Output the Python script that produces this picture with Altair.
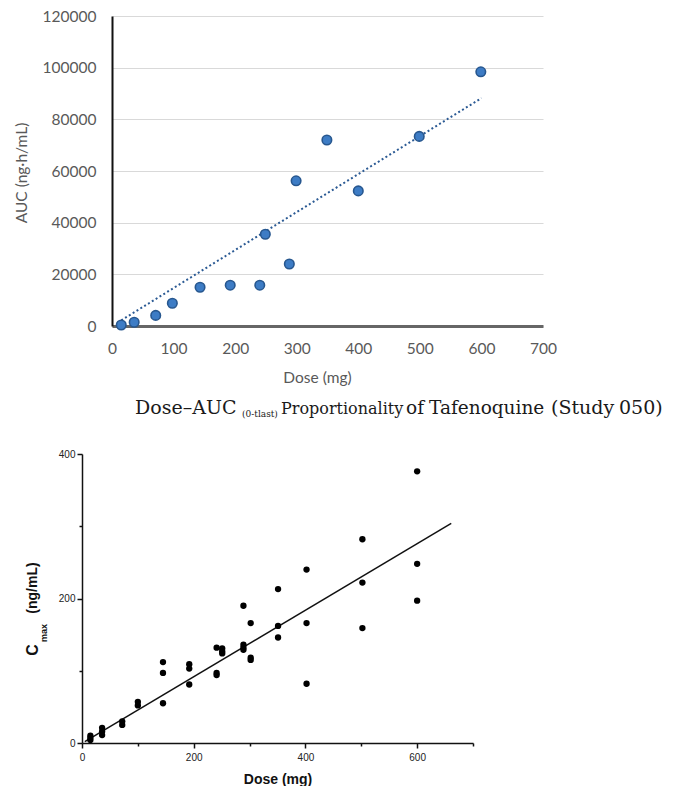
import altair as alt
import pandas as pd

# ---------------- data ----------------
# Top panel: AUC vs dose (Study 050 means)
auc_dose = [15, 36, 71, 98, 143, 192, 240, 249, 288, 299, 349, 400, 499, 599]
auc_val = [400, 1450, 4100, 8800, 15000, 15800, 15800, 35500, 24000, 56200, 72000, 52300, 73400, 98400]
auc_trend_dose = [15, 600]
auc_trend_val = [2200, 88200]

# Bottom panel: Cmax vs dose (individual subjects)
cmax_dose = [15, 15, 15, 36, 36, 36, 72, 72, 100, 100, 145, 145, 145,
             192, 192, 192, 241, 241, 241, 251, 251, 251, 289, 289, 289, 289,
             302, 302, 302, 351, 351, 351, 402, 402, 402, 502, 502, 502, 600, 600, 600]
cmax_val = [10, 7, 4, 21, 16, 11, 30, 25, 57, 52, 112, 97, 55,
            109, 103, 81, 132, 97, 94, 131, 127, 124, 190, 136, 132, 129,
            166, 118, 115, 213, 162, 146, 240, 166, 82, 282, 222, 159, 376, 248, 197]
cmax_fit_dose = [5, 661]
cmax_fit_val = [2, 304]

top_x_ticks = [0, 100, 200, 300, 400, 500, 600, 700]
top_y_ticks = [0, 20000, 40000, 60000, 80000, 100000, 120000]
bot_x_ticks = [0, 100, 200, 300, 400, 500, 600, 700]
bot_y_ticks = [0, 100, 200, 300, 400]

title_words = ["Dose\u2013AUC", "(0-tlast)", "Proportionality", "of", "Tafenoquine", "(Study", "050)"]

# ---------------- layout constants ----------------
W_TOP, H_TOP = 431, 310
W_BOT, H_BOT = 391, 289
SPACER_TOP, SPACER_BOT = 4, 14
MID_H = 63
word_x = [124, 231, 270, 395, 418, 540, 608]
word_y = [28, 31, 28, 28, 28, 28, 28]
word_size = [19, 9, 16, 18.5, 18.5, 19, 19]

GRAY = "#595959"
one = pd.DataFrame({"k": [0]})

# ---------------- top chart ----------------
top_df = pd.DataFrame({"dose": auc_dose, "auc": auc_val})
trend_df = pd.DataFrame({"dose": auc_trend_dose, "auc": auc_trend_val})

xs_top = alt.Scale(domain=[0, 700], nice=False, zero=False)
ys_top = alt.Scale(domain=[0, 120000], nice=False)

x_top = alt.X("dose:Q", scale=xs_top, axis=alt.Axis(
    values=top_x_ticks, grid=False, ticks=False, tickSize=0, labelFlush=False,
    domainColor="#666666", domainWidth=3,
    labelFont="Lato", labelFontSize=15.5, labelColor=GRAY, labelPadding=15,
    title="Dose (mg)", titleFont="Lato", titleFontSize=15.5, titleFontWeight="normal",
    titleColor=GRAY, titlePadding=14, titleX=205))
y_top = alt.Y("auc:Q", scale=ys_top, axis=alt.Axis(
    values=top_y_ticks, format="d", grid=True, gridColor="#d9d9d9", gridWidth=1,
    ticks=False, tickSize=0, domainColor="#111111", domainWidth=2,
    labelFont="Lato", labelFontSize=15.5, labelColor=GRAY, labelPadding=16, title=None))

trend = alt.Chart(trend_df).mark_line(color="#2b5a94", strokeDash=[2, 2.5], strokeWidth=2).encode(
    x=x_top, y=y_top)
pts_top = alt.Chart(top_df).mark_circle(size=90, color="#3d7cc5", opacity=1,
                                        stroke="#27578f", strokeWidth=1.6).encode(x=x_top, y=y_top)
ytitle_top = alt.Chart(one).mark_text(text="AUC (ng\u00b7h/mL)", angle=270, align="center",
                                      baseline="middle", font="Lato", fontSize=15.5,
                                      color=GRAY).encode(x=alt.value(-90), y=alt.value(157))

top_chart = alt.layer(trend, pts_top, ytitle_top).properties(width=W_TOP, height=H_TOP)

# ---------------- middle title ----------------
mid_layers = []
for w, xx, yy, fs in zip(title_words, word_x, word_y, word_size):
    mid_layers.append(
        alt.Chart(one).mark_text(text=w, align="left", baseline="alphabetic",
                                 font="DejaVu Serif", fontSize=fs, color="#1a1a1a")
        .encode(x=alt.value(xx), y=alt.value(yy)))
mid_chart = alt.layer(*mid_layers).properties(width=640, height=MID_H)

# ---------------- bottom chart ----------------
bot_df = pd.DataFrame({"dose": cmax_dose, "cmax": cmax_val})
fit_df = pd.DataFrame({"dose": cmax_fit_dose, "cmax": cmax_fit_val})

xs_bot = alt.Scale(domain=[0, 700], nice=False, zero=False)
ys_bot = alt.Scale(domain=[0, 400], nice=False)
major = {"condition": {"test": "datum.value % 200 === 0", "value": 5}, "value": 3}

x_bot = alt.X("dose:Q", scale=xs_bot, axis=alt.Axis(
    values=bot_x_ticks, labelExpr="datum.value % 200 === 0 ? datum.label : ''",
    grid=False, tickSize=major, tickColor="#111111", tickWidth=1.5, labelFlush=False,
    domainColor="#111111", domainWidth=1.5,
    labelFont="Liberation Sans", labelFontSize=10, labelColor="#222222", labelPadding=4,
    title="Dose (mg)", titleFont="Liberation Sans", titleFontSize=14, titleFontWeight="bold",
    titleColor="#111111", titlePadding=10))
y_bot = alt.Y("cmax:Q", scale=ys_bot, axis=alt.Axis(
    values=bot_y_ticks, labelExpr="datum.value % 200 === 0 ? datum.label : ''",
    grid=False, tickSize=major, tickColor="#111111", tickWidth=1.5,
    domainColor="#111111", domainWidth=1.5,
    labelFont="Liberation Sans", labelFontSize=10, labelColor="#222222", labelPadding=2,
    title=None))

fit = alt.Chart(fit_df).mark_line(color="#111111", strokeWidth=1.5).encode(x=x_bot, y=y_bot)
pts_bot = alt.Chart(bot_df).mark_circle(size=40, color="#000000", opacity=1).encode(x=x_bot, y=y_bot)

yt_c = alt.Chart(one).mark_text(text="C", angle=270, align="center", baseline="middle",
                                font="Liberation Sans", fontSize=16, fontWeight="bold",
                                color="#111111").encode(x=alt.value(-49), y=alt.value(196))
yt_max = alt.Chart(one).mark_text(text="max", angle=270, align="center", baseline="middle",
                                  font="Liberation Sans", fontSize=9, fontWeight="bold",
                                  color="#111111").encode(x=alt.value(-38), y=alt.value(179))
yt_unit = alt.Chart(one).mark_text(text="(ng/mL)", angle=270, align="center", baseline="middle",
                                   font="Liberation Sans", fontSize=14, fontWeight="bold",
                                   color="#111111").encode(x=alt.value(-49), y=alt.value(134))

bot_chart = alt.layer(fit, pts_bot, yt_c, yt_max, yt_unit).properties(width=W_BOT, height=H_BOT)


# ---------------- spacers & assembly ----------------
def spacer(w):
    return alt.Chart(one).mark_rect(opacity=0).encode(
        x=alt.value(0), x2=alt.value(w), y=alt.value(0), y2=alt.value(1)
    ).properties(width=w, height=1)


top_row = alt.hconcat(spacer(SPACER_TOP), top_chart, spacing=0)
bot_row = alt.hconcat(spacer(SPACER_BOT), bot_chart, spacing=0)

chart = alt.vconcat(top_row, mid_chart, bot_row, spacing=0).properties(
    padding={"left": 3, "top": 1, "right": 0, "bottom": 0}, background="white"
).configure_view(stroke="transparent", strokeWidth=0)

chart.save("out.html", embed_options={"renderer": "svg", "actions": False})
